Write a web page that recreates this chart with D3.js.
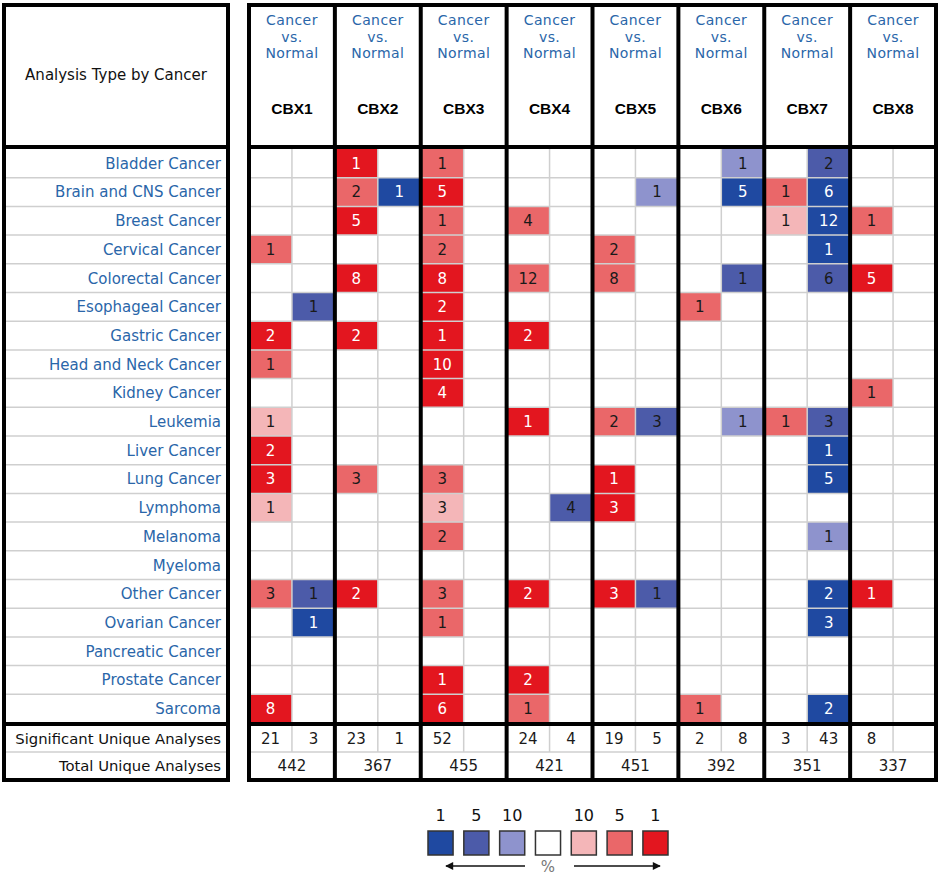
<!DOCTYPE html>
<html>
<head>
<meta charset="utf-8">
<script src="https://cdn.jsdelivr.net/npm/d3@7/dist/d3.min.js"></script>
<style>
  body { margin: 0; background: #fff; }
  svg { display: block; }
</style>
</head>
<body>
<div id="chart"></div>
<script>
// Rows of the table (cancer types) and columns (genes)
const cancers = ["Bladder Cancer", "Brain and CNS Cancer", "Breast Cancer", "Cervical Cancer",
    "Colorectal Cancer", "Esophageal Cancer", "Gastric Cancer", "Head and Neck Cancer",
    "Kidney Cancer", "Leukemia", "Liver Cancer", "Lung Cancer", "Lymphoma", "Melanoma",
    "Myeloma", "Other Cancer", "Ovarian Cancer", "Pancreatic Cancer", "Prostate Cancer", "Sarcoma"];
const genes = ["CBX1", "CBX2", "CBX3", "CBX4", "CBX5", "CBX6", "CBX7", "CBX8"];

// Number of analyses with over-expression (red), one list per gene, in cancer order
const upCounts = [
    [0, 0, 0, 1, 0, 0, 2, 1, 0, 1, 2, 3, 1, 0, 0, 3, 0, 0, 0, 8],
    [1, 2, 5, 0, 8, 0, 2, 0, 0, 0, 0, 3, 0, 0, 0, 2, 0, 0, 0, 0],
    [1, 5, 1, 2, 8, 2, 1, 10, 4, 0, 0, 3, 3, 2, 0, 3, 1, 0, 1, 6],
    [0, 0, 4, 0, 12, 0, 2, 0, 0, 1, 0, 0, 0, 0, 0, 2, 0, 0, 2, 1],
    [0, 0, 0, 2, 8, 0, 0, 0, 0, 2, 0, 1, 3, 0, 0, 3, 0, 0, 0, 0],
    [0, 0, 0, 0, 0, 1, 0, 0, 0, 0, 0, 0, 0, 0, 0, 0, 0, 0, 0, 1],
    [0, 1, 1, 0, 0, 0, 0, 0, 0, 1, 0, 0, 0, 0, 0, 0, 0, 0, 0, 0],
    [0, 0, 1, 0, 5, 0, 0, 0, 1, 0, 0, 0, 0, 0, 0, 1, 0, 0, 0, 0]
];
// Best gene rank (top 1 / 5 / 10 %) of those analyses
const upRanks = [
    [0, 0, 0, 5, 0, 0, 1, 5, 0, 10, 1, 1, 10, 0, 0, 5, 0, 0, 0, 1],
    [1, 5, 1, 0, 1, 0, 1, 0, 0, 0, 0, 5, 0, 0, 0, 1, 0, 0, 0, 0],
    [5, 1, 5, 5, 1, 1, 1, 1, 1, 0, 0, 5, 10, 5, 0, 5, 5, 0, 1, 1],
    [0, 0, 5, 0, 5, 0, 1, 0, 0, 1, 0, 0, 0, 0, 0, 1, 0, 0, 1, 5],
    [0, 0, 0, 5, 5, 0, 0, 0, 0, 5, 0, 1, 1, 0, 0, 1, 0, 0, 0, 0],
    [0, 0, 0, 0, 0, 5, 0, 0, 0, 0, 0, 0, 0, 0, 0, 0, 0, 0, 0, 5],
    [0, 5, 10, 0, 0, 0, 0, 0, 0, 5, 0, 0, 0, 0, 0, 0, 0, 0, 0, 0],
    [0, 0, 5, 0, 1, 0, 0, 0, 5, 0, 0, 0, 0, 0, 0, 1, 0, 0, 0, 0]
];
// Number of analyses with under-expression (blue)
const downCounts = [
    [0, 0, 0, 0, 0, 1, 0, 0, 0, 0, 0, 0, 0, 0, 0, 1, 1, 0, 0, 0],
    [0, 1, 0, 0, 0, 0, 0, 0, 0, 0, 0, 0, 0, 0, 0, 0, 0, 0, 0, 0],
    [0, 0, 0, 0, 0, 0, 0, 0, 0, 0, 0, 0, 0, 0, 0, 0, 0, 0, 0, 0],
    [0, 0, 0, 0, 0, 0, 0, 0, 0, 0, 0, 0, 4, 0, 0, 0, 0, 0, 0, 0],
    [0, 1, 0, 0, 0, 0, 0, 0, 0, 3, 0, 0, 0, 0, 0, 1, 0, 0, 0, 0],
    [1, 5, 0, 0, 1, 0, 0, 0, 0, 1, 0, 0, 0, 0, 0, 0, 0, 0, 0, 0],
    [2, 6, 12, 1, 6, 0, 0, 0, 0, 3, 1, 5, 0, 1, 0, 2, 3, 0, 0, 2],
    [0, 0, 0, 0, 0, 0, 0, 0, 0, 0, 0, 0, 0, 0, 0, 0, 0, 0, 0, 0]
];
const downRanks = [
    [0, 0, 0, 0, 0, 5, 0, 0, 0, 0, 0, 0, 0, 0, 0, 5, 1, 0, 0, 0],
    [0, 1, 0, 0, 0, 0, 0, 0, 0, 0, 0, 0, 0, 0, 0, 0, 0, 0, 0, 0],
    [0, 0, 0, 0, 0, 0, 0, 0, 0, 0, 0, 0, 0, 0, 0, 0, 0, 0, 0, 0],
    [0, 0, 0, 0, 0, 0, 0, 0, 0, 0, 0, 0, 5, 0, 0, 0, 0, 0, 0, 0],
    [0, 10, 0, 0, 0, 0, 0, 0, 0, 5, 0, 0, 0, 0, 0, 5, 0, 0, 0, 0],
    [10, 1, 0, 0, 5, 0, 0, 0, 0, 10, 0, 0, 0, 0, 0, 0, 0, 0, 0, 0],
    [5, 1, 1, 1, 5, 0, 0, 0, 0, 5, 1, 1, 0, 10, 0, 1, 1, 0, 0, 1],
    [0, 0, 0, 0, 0, 0, 0, 0, 0, 0, 0, 0, 0, 0, 0, 0, 0, 0, 0, 0]
];

// Summary rows
const sigUp = [21, 23, 52, 24, 19, 2, 3, 8];
const sigDown = [3, 1, null, 4, 5, 8, 43, null];
const totalAnalyses = [442, 367, 455, 421, 451, 392, 351, 337];

// Legend keys
const legendLabels = ["1", "5", "10", "", "10", "5", "1"];
const legendSides = ["down", "down", "down", "none", "up", "up", "up"];
const legendRanks = [1, 5, 10, 0, 10, 5, 1];

const palette = {
    up: { 1: "#e3161f", 5: "#ea6769", 10: "#f4b6b8" },
    down: { 1: "#1f49a1", 5: "#4c5ba9", 10: "#8e93cd" }
};
function shade(side, rank) {
    if (!rank || side === "none") return "#fff";
    return palette[side][rank];
}
function textColor(rank) {
    return rank === 1 ? "#fff" : "#1a1a1a";
}

function createHeatmap() {
    const width = 941, height = 878;
    const font = "'DejaVu Sans', sans-serif";
    const blue = "#2a66a9";

    // Layout
    const leftX0 = 4, leftX1 = 228;
    const rightX0 = 249, rightX1 = 936;
    const top = 5, headerBottom = 147;
    const rowsTop = 149, rowsBottom = 723;
    const sumTop = 725, sumMid = 752, sumBottom = 780;

    const svg = d3.select("#chart")
        .append("svg")
        .attr("width", width)
        .attr("height", height);

    // Scales for genes, up/down sub columns and cancer rows
    const x = d3.scaleBand().domain(genes).range([rightX0, rightX1]);
    const sub = d3.scaleBand().domain(["up", "down"]).range([0, x.bandwidth()]);
    const y = d3.scaleBand().domain(cancers).range([rowsTop, rowsBottom]);

    // Build flat list of cells
    const cells = [];
    genes.forEach((g, gi) => {
        cancers.forEach((c, ci) => {
            cells.push({ gene: g, cancer: c, side: "up", count: upCounts[gi][ci], rank: upRanks[gi][ci] });
            cells.push({ gene: g, cancer: c, side: "down", count: downCounts[gi][ci], rank: downRanks[gi][ci] });
        });
    });
    const filled = cells.filter(d => d.count > 0);

    // Coloured cells
    svg.append("g")
        .selectAll("rect")
        .data(filled)
        .enter().append("rect")
        .attr("x", d => x(d.gene) + sub(d.side))
        .attr("y", d => y(d.cancer))
        .attr("width", sub.bandwidth())
        .attr("height", y.bandwidth())
        .attr("fill", d => shade(d.side, d.rank));

    // Light grid lines: row boundaries in both panels
    const grid = svg.append("g")
        .attr("stroke", "#cfcfcf")
        .attr("stroke-width", 1.5);
    const rowEdges = cancers.slice(1).map(c => y(c)).concat([sumMid]);
    rowEdges.forEach(yy => {
        grid.append("line").attr("x1", leftX0).attr("x2", leftX1).attr("y1", yy).attr("y2", yy);
        grid.append("line").attr("x1", rightX0).attr("x2", rightX1).attr("y1", yy).attr("y2", yy);
    });
    // sub column split
    genes.forEach(g => {
        const xx = x(g) + sub("down");
        grid.append("line").attr("x1", xx).attr("x2", xx).attr("y1", rowsTop).attr("y2", sumMid);
    });

    // Cell numbers
    svg.append("g")
        .selectAll("text")
        .data(filled)
        .enter().append("text")
        .attr("x", d => x(d.gene) + sub(d.side) + sub.bandwidth() / 2)
        .attr("y", d => y(d.cancer) + y.bandwidth() / 2)
        .attr("dy", "0.36em")
        .attr("text-anchor", "middle")
        .style("font-family", font)
        .style("font-size", "15px")
        .style("fill", d => textColor(d.rank))
        .text(d => d.count);

    // Row labels
    svg.append("g")
        .selectAll("text")
        .data(cancers)
        .enter().append("text")
        .attr("x", 221)
        .attr("y", d => y(d) + y.bandwidth() / 2)
        .attr("dy", "0.36em")
        .attr("text-anchor", "end")
        .style("font-family", font)
        .style("font-size", "15px")
        .style("fill", blue)
        .text(d => d);

    // Summary rows
    const sumRows = [
        { label: "Significant Unique Analyses", y: (sumTop + sumMid) / 2 },
        { label: "Total Unique Analyses", y: (sumMid + sumBottom) / 2 }
    ];
    svg.append("g")
        .selectAll("text")
        .data(sumRows)
        .enter().append("text")
        .attr("x", 221)
        .attr("y", d => d.y)
        .attr("dy", "0.36em")
        .attr("text-anchor", "end")
        .style("font-family", font)
        .style("font-size", "14.8px")
        .style("fill", "#111")
        .text(d => d.label);

    const sumText = svg.append("g")
        .style("font-family", font)
        .style("font-size", "15px")
        .style("fill", "#1a1a1a")
        .attr("text-anchor", "middle");
    genes.forEach((g, gi) => {
        [["up", sigUp[gi]], ["down", sigDown[gi]]].forEach(([side, v]) => {
            if (v == null) return;
            sumText.append("text")
                .attr("x", x(g) + sub(side) + sub.bandwidth() / 2)
                .attr("y", sumRows[0].y)
                .attr("dy", "0.36em")
                .text(v);
        });
        sumText.append("text")
            .attr("x", x(g) + x.bandwidth() / 2)
            .attr("y", sumRows[1].y)
            .attr("dy", "0.36em")
            .text(totalAnalyses[gi]);
    });

    // Header of left panel
    svg.append("text")
        .attr("x", (leftX0 + leftX1) / 2)
        .attr("y", 75)
        .attr("dy", "0.36em")
        .attr("text-anchor", "middle")
        .style("font-family", font)
        .style("font-size", "15px")
        .style("fill", "#111")
        .text("Analysis Type by Cancer");

    // Gene headers
    const head = svg.append("g")
        .selectAll("g")
        .data(genes)
        .enter().append("g")
        .attr("transform", d => `translate(${x(d) + x.bandwidth() / 2},0)`);
    ["Cancer", "vs.", "Normal"].forEach((t, i) => {
        head.append("text")
            .attr("y", 20 + i * 16.5)
            .attr("dy", "0.36em")
            .attr("text-anchor", "middle")
            .style("font-family", font)
            .style("font-size", "14px")
            .style("letter-spacing", "0.4px")
            .style("fill", blue)
            .text(t);
    });
    head.append("text")
        .attr("y", 108)
        .attr("dy", "0.36em")
        .attr("text-anchor", "middle")
        .style("font-family", "'Liberation Sans', Arial, sans-serif")
        .style("font-weight", "bold")
        .style("font-size", "15.5px")
        .style("fill", "#000")
        .text(d => d);

    // Thick black frame lines
    const frame = svg.append("g")
        .attr("stroke", "#000")
        .attr("stroke-width", 4)
        .attr("fill", "none");
    frame.append("rect")
        .attr("x", leftX0).attr("y", top)
        .attr("width", leftX1 - leftX0).attr("height", sumBottom - top);
    frame.append("rect")
        .attr("x", rightX0).attr("y", top)
        .attr("width", rightX1 - rightX0).attr("height", sumBottom - top);
    [headerBottom, sumTop - 1].forEach(yy => {
        frame.append("line").attr("x1", leftX0).attr("x2", leftX1).attr("y1", yy).attr("y2", yy);
        frame.append("line").attr("x1", rightX0).attr("x2", rightX1).attr("y1", yy).attr("y2", yy);
    });
    genes.slice(1).forEach(g => {
        frame.append("line")
            .attr("x1", x(g)).attr("x2", x(g))
            .attr("y1", top).attr("y2", sumBottom);
    });

    // Legend
    const lx = d3.scaleBand()
        .domain(d3.range(legendLabels.length))
        .range([428, 668])
        .paddingInner(0.3);
    const legend = svg.append("g");
    legend.selectAll("rect")
        .data(legendLabels)
        .enter().append("rect")
        .attr("x", (d, i) => lx(i))
        .attr("y", 831)
        .attr("width", lx.bandwidth())
        .attr("height", 24)
        .attr("fill", (d, i) => shade(legendSides[i], legendRanks[i]))
        .attr("stroke", "#333")
        .attr("stroke-width", 1.5);
    legend.selectAll("text")
        .data(legendLabels)
        .enter().append("text")
        .attr("x", (d, i) => lx(i) + lx.bandwidth() / 2)
        .attr("y", 815)
        .attr("dy", "0.36em")
        .attr("text-anchor", "middle")
        .style("font-family", font)
        .style("font-size", "16px")
        .style("fill", "#111")
        .text(d => d);

    // Arrows under the legend
    svg.append("defs").append("marker")
        .attr("id", "arrow")
        .attr("viewBox", "0 0 10 10")
        .attr("refX", 9).attr("refY", 5)
        .attr("markerWidth", 10).attr("markerHeight", 8)
        .attr("markerUnits", "userSpaceOnUse")
        .attr("orient", "auto")
        .append("path")
        .attr("d", "M0,0L10,5L0,10Z")
        .attr("fill", "#111");
    legend.append("line")
        .attr("x1", 525).attr("x2", 446).attr("y1", 866).attr("y2", 866)
        .attr("stroke", "#111").attr("stroke-width", 1.5)
        .attr("marker-end", "url(#arrow)");
    legend.append("line")
        .attr("x1", 574).attr("x2", 660).attr("y1", 866).attr("y2", 866)
        .attr("stroke", "#111").attr("stroke-width", 1.5)
        .attr("marker-end", "url(#arrow)");
    legend.append("text")
        .attr("x", 548)
        .attr("y", 867)
        .attr("dy", "0.36em")
        .attr("text-anchor", "middle")
        .style("font-family", font)
        .style("font-size", "15px")
        .style("fill", "#777")
        .text("%");
}

createHeatmap();
</script>
</body>
</html>
